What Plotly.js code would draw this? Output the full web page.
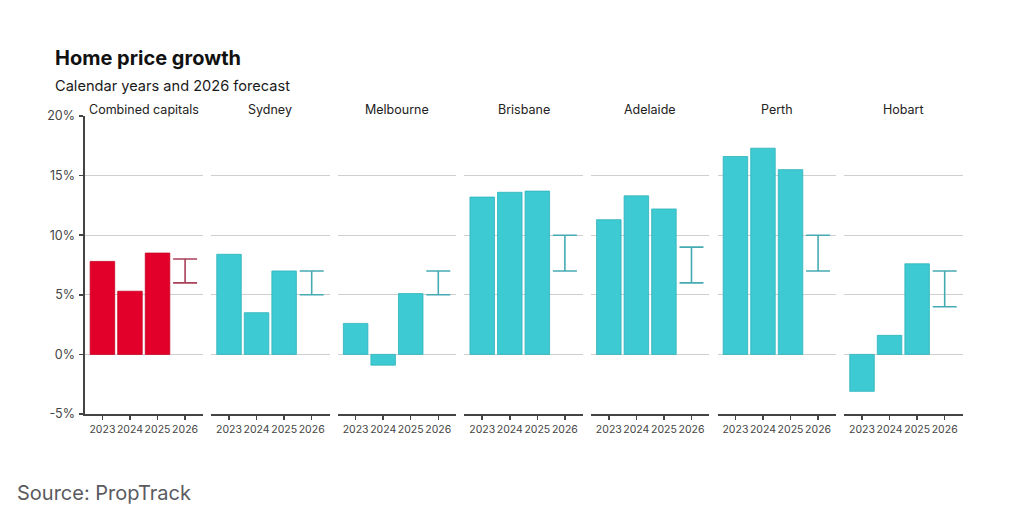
<!DOCTYPE html>
<html>
<head>
<meta charset="utf-8">
<script src="https://cdn.plot.ly/plotly-3.0.1.min.js"></script>
<style>
  html, body { margin: 0; padding: 0; background: #ffffff; }
  #chart { width: 1024px; height: 517px; }
</style>
</head>
<body>
<div id="chart"></div>
<script>
// Annual home price growth by capital city, with 2026 forecast ranges
const cities = ['Combined capitals', 'Sydney', 'Melbourne', 'Brisbane', 'Adelaide', 'Perth', 'Hobart'];
const years = ['2023', '2024', '2025', '2026'];
const actualYears = ['2023', '2024', '2025'];
const growth2023 = [7.8, 8.4, 2.6, 13.2, 11.3, 16.6, -3.1];
const growth2024 = [5.3, 3.5, -0.9, 13.6, 13.3, 17.3, 1.6];
const growth2025 = [8.5, 7.0, 5.1, 13.7, 12.2, 15.5, 7.6];
const forecastLow = [6, 5, 5, 7, 6, 7, 4];
const forecastHigh = [8, 7, 7, 10, 9, 10, 7];
const yTicks = [-5, 0, 5, 10, 15, 20];
const yTickText = ['-5%', '0%', '5%', '10%', '15%', '20%'];

const W = 1024, H = 517;
const FONT = 'Inter, "Open Sans", Roboto, sans-serif';
const RED = '#e2002b', RED_EDGE = '#c4001f', RED_RANGE = '#a8405a';
const TEAL = '#3ecad2', TEAL_EDGE = '#2fb3bb', TEAL_RANGE = '#45abb3';

// panel geometry (pixels)
const panelLeft = 84.5, panelWidth = 118.5, panelStep = 126.6;
const plotTop = 116, plotBottom = 414;
const yDomain = [1 - plotBottom / H, 1 - plotTop / H];

const traces = [];
const layout = {
  width: W, height: H,
  margin: { l: 0, r: 0, t: 0, b: 0 },
  paper_bgcolor: '#ffffff',
  plot_bgcolor: 'rgba(0,0,0,0)',
  showlegend: false,
  bargap: 0.11,
  font: { family: FONT, color: '#333' },
  annotations: [],
};

cities.forEach((city, i) => {
  const n = i === 0 ? '' : String(i + 1);
  const xa = 'x' + n, ya = 'y' + n;
  const isTotal = i === 0;
  const values = [growth2023[i], growth2024[i], growth2025[i]];

  traces.push({
    type: 'bar',
    x: actualYears,
    y: values,
    xaxis: xa, yaxis: ya,
    marker: {
      color: isTotal ? RED : TEAL,
      line: { color: isTotal ? RED_EDGE : TEAL_EDGE, width: 0.8 },
    },
    hoverinfo: 'x+y',
  });

  // 2026 forecast range drawn as an error bar from low to high
  traces.push({
    type: 'scatter',
    mode: 'markers',
    x: ['2026'],
    y: [forecastLow[i]],
    xaxis: xa, yaxis: ya,
    marker: { size: 1, opacity: 0 },
    error_y: {
      type: 'data',
      symmetric: false,
      array: [forecastHigh[i] - forecastLow[i]],
      arrayminus: [0],
      color: isTotal ? RED_RANGE : TEAL_RANGE,
      thickness: 1.6,
      width: 12,
    },
    hoverinfo: 'skip',
  });

  const left = panelLeft + i * panelStep;
  const x0 = left / W, x1 = (left + panelWidth) / W;

  layout['xaxis' + n] = {
    domain: [x0, x1],
    anchor: ya,
    type: 'category',
    categoryorder: 'array',
    categoryarray: years,
    range: [-0.65, 3.65],
    tickangle: 0,
    showline: true,
    linecolor: '#444',
    linewidth: 2,
    ticks: 'outside',
    ticklen: 4,
    tickwidth: 1.5,
    tickcolor: '#444',
    showgrid: false,
    zeroline: false,
    fixedrange: true,
    tickfont: { family: FONT, size: 10.5, color: '#444' },
  };

  layout['yaxis' + n] = {
    domain: yDomain,
    anchor: xa,
    range: [-5, 20],
    tickmode: 'array',
    tickvals: yTicks,
    ticktext: yTickText,
    showticklabels: isTotal,
    showline: isTotal,
    linecolor: '#444',
    linewidth: 2,
    ticks: isTotal ? 'outside' : '',
    ticklen: 4,
    tickwidth: 1.5,
    tickcolor: '#444',
    ticklabelstandoff: 1,
    showgrid: true,
    gridcolor: '#cfcfcf',
    gridwidth: 1.4,
    zeroline: true,
    zerolinecolor: '#cfcfcf',
    zerolinewidth: 1.4,
    fixedrange: true,
    tickfont: { family: FONT, size: 12.5, color: '#444' },
  };

  layout.annotations.push({
    text: city,
    xref: 'paper', yref: 'paper',
    x: (x0 + x1) / 2, y: 1 - 110 / H,
    xanchor: 'center', yanchor: 'middle',
    showarrow: false,
    font: { family: FONT, size: 12.5, color: '#222' },
  });
});

layout.annotations.push(
  {
    text: '<b>Home price growth</b>',
    xref: 'paper', yref: 'paper',
    x: 53 / W, y: 1 - 58 / H,
    xanchor: 'left', yanchor: 'middle',
    showarrow: false,
    font: { family: FONT, size: 20, color: '#111' },
  },
  {
    text: 'Calendar years and 2026 forecast',
    xref: 'paper', yref: 'paper',
    x: 53 / W, y: 1 - 86 / H,
    xanchor: 'left', yanchor: 'middle',
    showarrow: false,
    font: { family: FONT, size: 14.6, color: '#1a1a1a' },
  },
  {
    text: 'Source: PropTrack',
    xref: 'paper', yref: 'paper',
    x: 15 / W, y: 1 - 493 / H,
    xanchor: 'left', yanchor: 'middle',
    showarrow: false,
    font: { family: FONT, size: 20, color: '#5a5a5f' },
  }
);

Plotly.newPlot('chart', traces, layout, { displayModeBar: false, staticPlot: true });
</script>
</body>
</html>
